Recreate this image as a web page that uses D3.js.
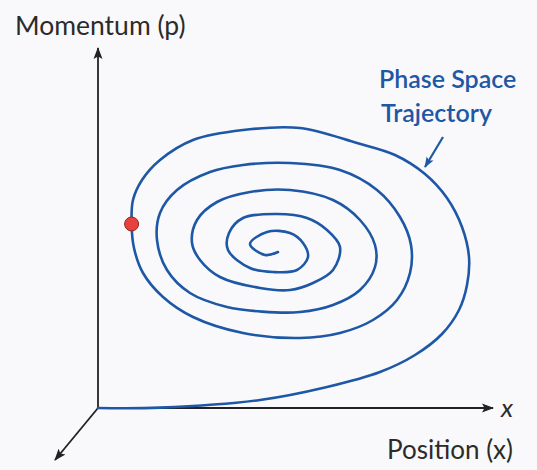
<!DOCTYPE html>
<html>
<head>
<meta charset="utf-8">
<script src="https://cdn.jsdelivr.net/npm/d3@7"></script>
<style>
  html, body { margin: 0; padding: 0; background: #f9f9fb; }
  svg { display: block; }
  .label { font-family: Lato, "Open Sans", sans-serif; fill: #2b2b2b; }
  .note { font-family: Lato, "Open Sans", sans-serif; font-weight: 600; fill: #1d57a5; }
</style>
</head>
<body>
<svg></svg>
<script>
var width = 537;
var height = 470;

// trajectory (position, momentum), outer end first
var posX = [0, 15.5, 40.5, 57.25, 70.5, 79.25, 86, 90.25, 92.25, 92.75, 91, 87.25, 81.75,
  74.25, 64.75, 50.5, 36.25, 23.75, 15.5, 11, 8.75, 8.4, 9, 11.25, 16.25, 23.75, 36.25,
  50.5, 60.5, 68.75, 74.75, 78, 78.25, 75.5, 69.75, 60.5, 48, 36.25, 28, 19.75, 15.5,
  14.75, 17.25, 23, 32.25, 41, 50.5, 58.75, 65.5, 69.25, 69.25, 65.5, 58.75, 48, 38,
  29.75, 24.75, 23.5, 25.5, 30.5, 40.5, 48, 53.75, 58.75, 60.5, 57.25, 52.25, 44.75,
  36.25, 32.75, 32.5, 38, 43.75, 49.75, 52.5, 51.25, 48, 42.25, 38, 41.75, 45];
var momP = [0, 0.1, 2, 5.25, 9, 13.25, 18.5, 24.5, 30.75, 37.75, 45.25, 52.5, 58.5,
  63.25, 66.25, 70, 69.5, 67, 62, 57, 52, 46, 40, 33.75, 27.75, 22.75, 18.75,
  17.5, 18.75, 22, 27, 33.75, 40.75, 47.75, 54.5, 59.5, 61.25, 60.75, 59, 54.5, 48.75,
  42, 34.5, 28.75, 25.25, 24.1, 24, 25.75, 29.5, 35.25, 40.75, 47, 52, 54.5, 54,
  51.5, 47, 41.25, 37, 32.75, 30, 29.5, 31.25, 34.5, 40.25, 44.5, 47.5, 48.5,
  47.5, 43.75, 39.5, 35, 34, 34.5, 37.75, 41.25, 43.75, 44, 41, 38.25, 39];

// current state marker
var statePoint = [8.4, 46];

// axis ends: position, momentum, depth (drawn toward the viewer)
var axisEnds = [[98.75, 0], [0, 90], [-10.75, -13]];

var xScale = d3.scaleLinear().domain([0, 98.75]).range([98, 493]);
var yScale = d3.scaleLinear().domain([0, 90]).range([408, 48]);

var svg = d3.select("svg")
    .attr("width", width)
    .attr("height", height);

var defs = svg.append("defs");

function arrowHead(id, color, w, h) {
  defs.append("marker")
      .attr("id", id)
      .attr("viewBox", "0 0 12 10")
      .attr("refX", 11)
      .attr("refY", 5)
      .attr("markerWidth", w)
      .attr("markerHeight", h)
      .attr("markerUnits", "userSpaceOnUse")
      .attr("orient", "auto")
    .append("path")
      .attr("d", "M0,0.5 L12,5 L0,9.5 L2.5,5 Z")
      .style("fill", color);
}
arrowHead("axisHead", "#222", 12, 10);
arrowHead("noteHead", "#1d57a5", 11, 9);

// axes
svg.append("g")
    .attr("class", "axes")
  .selectAll("line")
    .data(axisEnds)
  .enter()
  .append("line")
    .attr("x1", xScale(0))
    .attr("y1", yScale(0))
    .attr("x2", function(d) { return xScale(d[0]); })
    .attr("y2", function(d) { return yScale(d[1]); })
    .style("stroke", "#222")
    .style("stroke-width", 1.8)
    .attr("marker-end", "url(#axisHead)");

// trajectory
var traj = d3.zip(posX, momP);

var line = d3.line()
    .x(function(d) { return xScale(d[0]); })
    .y(function(d) { return yScale(d[1]); })
    .curve(d3.curveCatmullRom.alpha(0.5));

svg.append("path")
    .datum(traj)
    .attr("d", line)
    .style("fill", "none")
    .style("stroke", "#1d57a5")
    .style("stroke-width", 2.6)
    .style("stroke-linecap", "round");

svg.append("circle")
    .attr("cx", xScale(statePoint[0]))
    .attr("cy", yScale(statePoint[1]))
    .attr("r", 7)
    .style("fill", "#e8403c")
    .style("stroke", "#8e2a26")
    .style("stroke-width", 1);

// labels
svg.append("text")
    .attr("class", "label")
    .attr("x", 15)
    .attr("y", 35)
    .style("font-size", "26.5px")
    .text("Momentum (p)");

svg.append("text")
    .attr("class", "label")
    .attr("x", 513)
    .attr("y", 459)
    .style("text-anchor", "end")
    .style("font-size", "26px")
    .text("Position (x)");

svg.append("text")
    .attr("class", "label")
    .attr("x", 501)
    .attr("y", 417)
    .style("font-size", "26px")
    .style("font-style", "italic")
    .text("x");

var note = svg.append("text")
    .attr("class", "note")
    .style("font-size", "25px");

note.append("tspan")
    .attr("x", 379)
    .attr("y", 88)
    .text("Phase Space");

note.append("tspan")
    .attr("x", 381)
    .attr("y", 122)
    .text("Trajectory");

svg.append("line")
    .attr("x1", 443)
    .attr("y1", 137)
    .attr("x2", 425)
    .attr("y2", 167)
    .style("stroke", "#1d57a5")
    .style("stroke-width", 2.2)
    .attr("marker-end", "url(#noteHead)");
</script>
</body>
</html>
